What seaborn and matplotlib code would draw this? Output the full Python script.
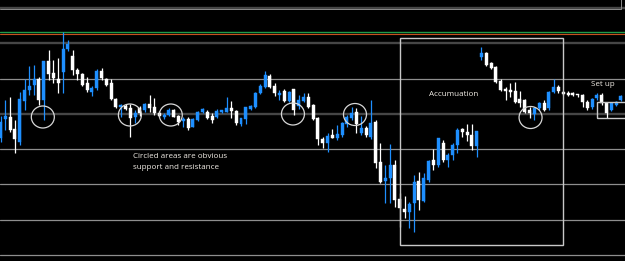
import numpy as np
import pandas as pd
import seaborn as sns
import matplotlib
matplotlib.use("Agg")
import matplotlib.pyplot as plt
from matplotlib.patches import Ellipse, Rectangle

open_r = [138,119,117,129,142,101,90,85,79,100,61,73,79,72,49,56,70,74,83,92,
          88,71,79,83,99,107,106,108,117,108,110,104,107,113,117,115,110,116,121,119,
          127,120,112,112,116,117,112,112,108,111,124,119,109,107,93,87,76,86,95,91,
          101,89,106,101,97,105,118,139,143,135,138,135,124,118,112,133,128,137,122,162,
          181,178,165,199,209,212,203,181,201,180,160,165,143,160,155,145,129,132,135,146,
          57,53,63,67,81,89,90,91,99,100,110,114,108,103,108,92,87,92,93,93,
          94,95,102,107,98,95,103,110,105,100]
high_r = [116,100,97,120,92,79,66,65,77,61,50,60,58,32,40,50,68,73,77,86,
          69,68,78,79,98,104,104,104,110,106,103,95,98,111,113,108,109,115,117,117,
          118,111,108,110,113,109,110,97,101,110,118,107,105,92,84,71,74,83,90,89,
          91,89,95,93,93,104,117,137,133,129,125,122,115,107,108,116,126,100,120,143,
          165,144,160,193,196,202,175,172,173,160,149,138,140,153,143,128,128,124,124,131,
          47,52,62,66,79,87,83,82,91,99,107,107,102,100,91,79,85,91,91,92,
          94,94,100,98,93,93,102,102,101,95]
low_r = [142,130,132,153,145,110,95,95,105,120,80,83,93,93,51,75,80,86,92,96,
         90,80,86,100,108,117,110,137,123,116,112,112,115,117,119,116,117,125,127,130,
         127,121,113,119,123,118,113,112,118,125,126,124,110,108,94,88,88,96,100,102,
         102,115,109,102,108,120,145,148,152,138,140,137,127,120,133,135,137,139,168,183,
         203,203,207,227,218,228,232,210,202,182,170,167,162,167,160,153,137,141,150,157,
         60,66,69,83,91,100,97,103,107,113,118,120,110,111,110,93,93,95,96,96,
         97,107,110,109,100,105,118,111,106,101]
close_r = [122,116,130,139,99,90,86,79,100,61,74,78,83,49,44,70,74,85,90,88,
           71,78,85,99,107,105,109,118,113,113,104,108,113,116,115,110,117,122,119,128,
           119,112,109,118,120,111,110,108,111,123,118,107,106,93,86,75,87,93,93,101,
           92,110,100,97,107,119,139,143,136,138,134,123,117,113,124,128,135,123,163,182,
           178,165,200,208,212,204,182,200,178,161,165,138,160,155,145,130,132,135,146,131,
           53,65,68,82,90,91,92,102,103,112,113,108,103,110,92,87,91,94,95,95,
           95,102,108,99,95,103,113,103,102,96]

PANE_TOP = 261.0
df = pd.DataFrame({
    "bar": np.arange(len(open_r)),
    "open": PANE_TOP - np.array(open_r, float),
    "high": PANE_TOP - np.array(high_r, float),
    "low": PANE_TOP - np.array(low_r, float),
    "close": PANE_TOP - np.array(close_r, float),
})
df["up"] = df["close"] > df["open"]

# horizontal levels drawn on the chart
light_levels = [182.5, 112, 77, 41.5, 6]
dark_levels = [253, 218, 147]
green_level = 229
orange_level = 227.5

# annotations: (bar, level) centres of circles
circle_bars = [8.8, 26.9, 35.4, 60.8, 73.7, 110.2]
circle_levels = [144, 146, 146, 147, 146.5, 143.5]

# ---- style ----
sns.set_theme(style="dark", rc={"axes.facecolor": "black", "figure.facecolor": "black",
                                "axes.edgecolor": "black"})
plt.rcParams['font.family'] = ['Open Sans', 'DejaVu Sans']

BLUE = "#1e8fff"
WHITE = "#ffffff"
LINE_LIGHT = "#8e8e8e"
LINE_DARK = "#464646"
BOX = "#c8c8c8"

fig = plt.figure(figsize=(6.25, 2.61), dpi=100)
ax = fig.add_axes([0, 0, 1, 1])
ax.set_facecolor("black")

px_per_bar = 4.81
x0 = -0.5 / px_per_bar
ax.set_xlim(x0, x0 + 625 / px_per_bar)
ax.set_ylim(0, PANE_TOP)

# level lines
for lv in light_levels:
    ax.axhline(lv, color=LINE_LIGHT, lw=0.9, zorder=1)
for lv in dark_levels:
    ax.axhline(lv, color=LINE_DARK, lw=1.7, zorder=1)
ax.axhline(green_level, color="#1f9a4a", lw=1.0, zorder=1)
ax.axhline(orange_level, color="#c8501e", lw=0.8, zorder=1)

# candles
colors = np.where(df["up"], BLUE, WHITE)
ax.vlines(df["bar"], df["low"], df["high"], colors=colors, lw=0.9, zorder=3)
body_bottom = np.minimum(df["open"], df["close"])
body_h = np.maximum(np.abs(df["close"] - df["open"]), 1.0)
ax.bar(df["bar"], body_h, bottom=body_bottom, width=0.62, color=colors,
       edgecolor=colors, linewidth=0.3, zorder=4)

# circles
for b, lv in zip(circle_bars, circle_levels):
    ax.add_patch(Ellipse((b, lv), 23 / px_per_bar, 22, fill=False,
                         edgecolor="#d8d8d8", lw=0.9, zorder=5))

# boxes
ax.add_patch(Rectangle((83.1, 16), 117.0 - 83.1, 222.7 - 16, fill=False,
                       edgecolor=BOX, lw=1.0, zorder=5))
ax.add_patch(Rectangle((124.0, 143), 10, 159 - 143, fill=False,
                       edgecolor=BOX, lw=1.0, zorder=5))
# top bracket (edge of an upper box)
ax.plot([x0, 129.0, 129.0], [251.8, 251.8, 262], color="#8a8a8a", lw=0.7, zorder=2)

# texts
tc = "#f2ede6"
ax.text(27.6, 104, "Circled areas are obvious", color=tc, fontsize=5.8, va="center", ha="left")
ax.text(27.6, 93.5, "support and resistance", color=tc, fontsize=5.8, va="center", ha="left")
ax.text(89.0, 166, "Accumuation", color=tc, fontsize=5.8, va="center", ha="left")
ax.text(122.8, 176, "Set up", color=tc, fontsize=5.8, va="center", ha="left")

ax.set_xticks([])
ax.set_yticks([])
for s in ax.spines.values():
    s.set_visible(False)

fig.savefig("out.png", dpi=100, facecolor="black")
